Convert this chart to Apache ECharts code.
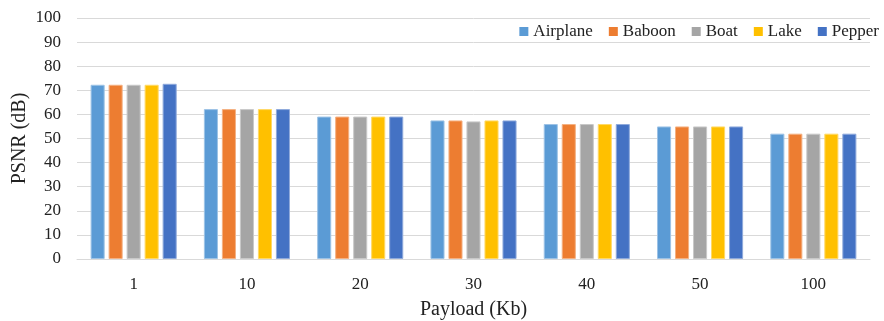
<!DOCTYPE html>
<html><head><meta charset="utf-8">
<script src="https://cdn.jsdelivr.net/npm/echarts@6/dist/echarts.min.js"></script>
<style>html,body{margin:0;padding:0;background:#fff}#c{width:884px;height:321px}</style>
</head><body><div id="c"></div>
<script>
const categories = ['1','10','20','30','40','50','100'];
const seriesNames = ['Airplane','Baboon','Boat','Lake','Pepper'];
const airplane = [72.3, 62.2, 59.1, 57.5, 56.0, 55.0, 52.0];
const baboon   = [72.3, 62.2, 59.1, 57.5, 56.0, 55.0, 52.0];
const boat     = [72.3, 62.2, 59.1, 57.1, 56.0, 55.0, 52.0];
const lake     = [72.3, 62.2, 59.1, 57.5, 56.0, 55.0, 52.0];
const pepper   = [72.7, 62.2, 59.1, 57.5, 56.0, 55.0, 52.0];
const colors = ['#5B9BD5','#ED7D31','#A5A5A5','#FFC000','#4472C4'];
const borders = ['#9dc3e6','#f4b183','#c9c9c9','#ffd966','#8faadc'];
const values = [airplane, baboon, boat, lake, pepper];
const font = 'Liberation Serif, Times New Roman, serif';
const chart = echarts.init(document.getElementById('c'));
chart.setOption({
  animation: false,
  textStyle: {fontFamily: font},
  legend: {
    right: 0, top: 18, itemWidth: 9, itemHeight: 9, itemGap: 16, itemStyle: {borderWidth: 0},
    icon: 'rect',
    textStyle: {fontFamily: font, fontSize: 17, color: '#222'},
    data: seriesNames
  },
  grid: {left: 77, right: 14, top: 18, bottom: 62, outerBoundsMode: 'none', containLabel: false},
  xAxis: {
    type: 'category', data: categories,
    name: 'Payload (Kb)', nameLocation: 'middle', nameGap: 41, nameMoveOverlap: false,
    nameTextStyle: {fontFamily: font, fontSize: 20, color: '#222'},
    axisTick: {show: false},
    axisLine: {lineStyle: {color: '#d9d9d9'}},
    axisLabel: {fontFamily: font, fontSize: 17, color: '#222', margin: 17}
  },
  yAxis: {
    type: 'value', min: 0, max: 100, interval: 10,
    name: 'PSNR (dB)', nameLocation: 'middle', nameGap: 47, nameMoveOverlap: false,
    nameTextStyle: {fontFamily: font, fontSize: 20, color: '#222'},
    splitLine: {lineStyle: {color: '#d9d9d9', width: 1}},
    axisLabel: {fontFamily: font, fontSize: 17, color: '#222', margin: 16}
  },
  series: seriesNames.map((n, i) => ({
    name: n, type: 'bar', data: values[i],
    barGap: '28%', barCategoryGap: '24%',
    itemStyle: {color: colors[i], borderColor: borders[i], borderWidth: 1}
  }))
});
</script></body></html>
